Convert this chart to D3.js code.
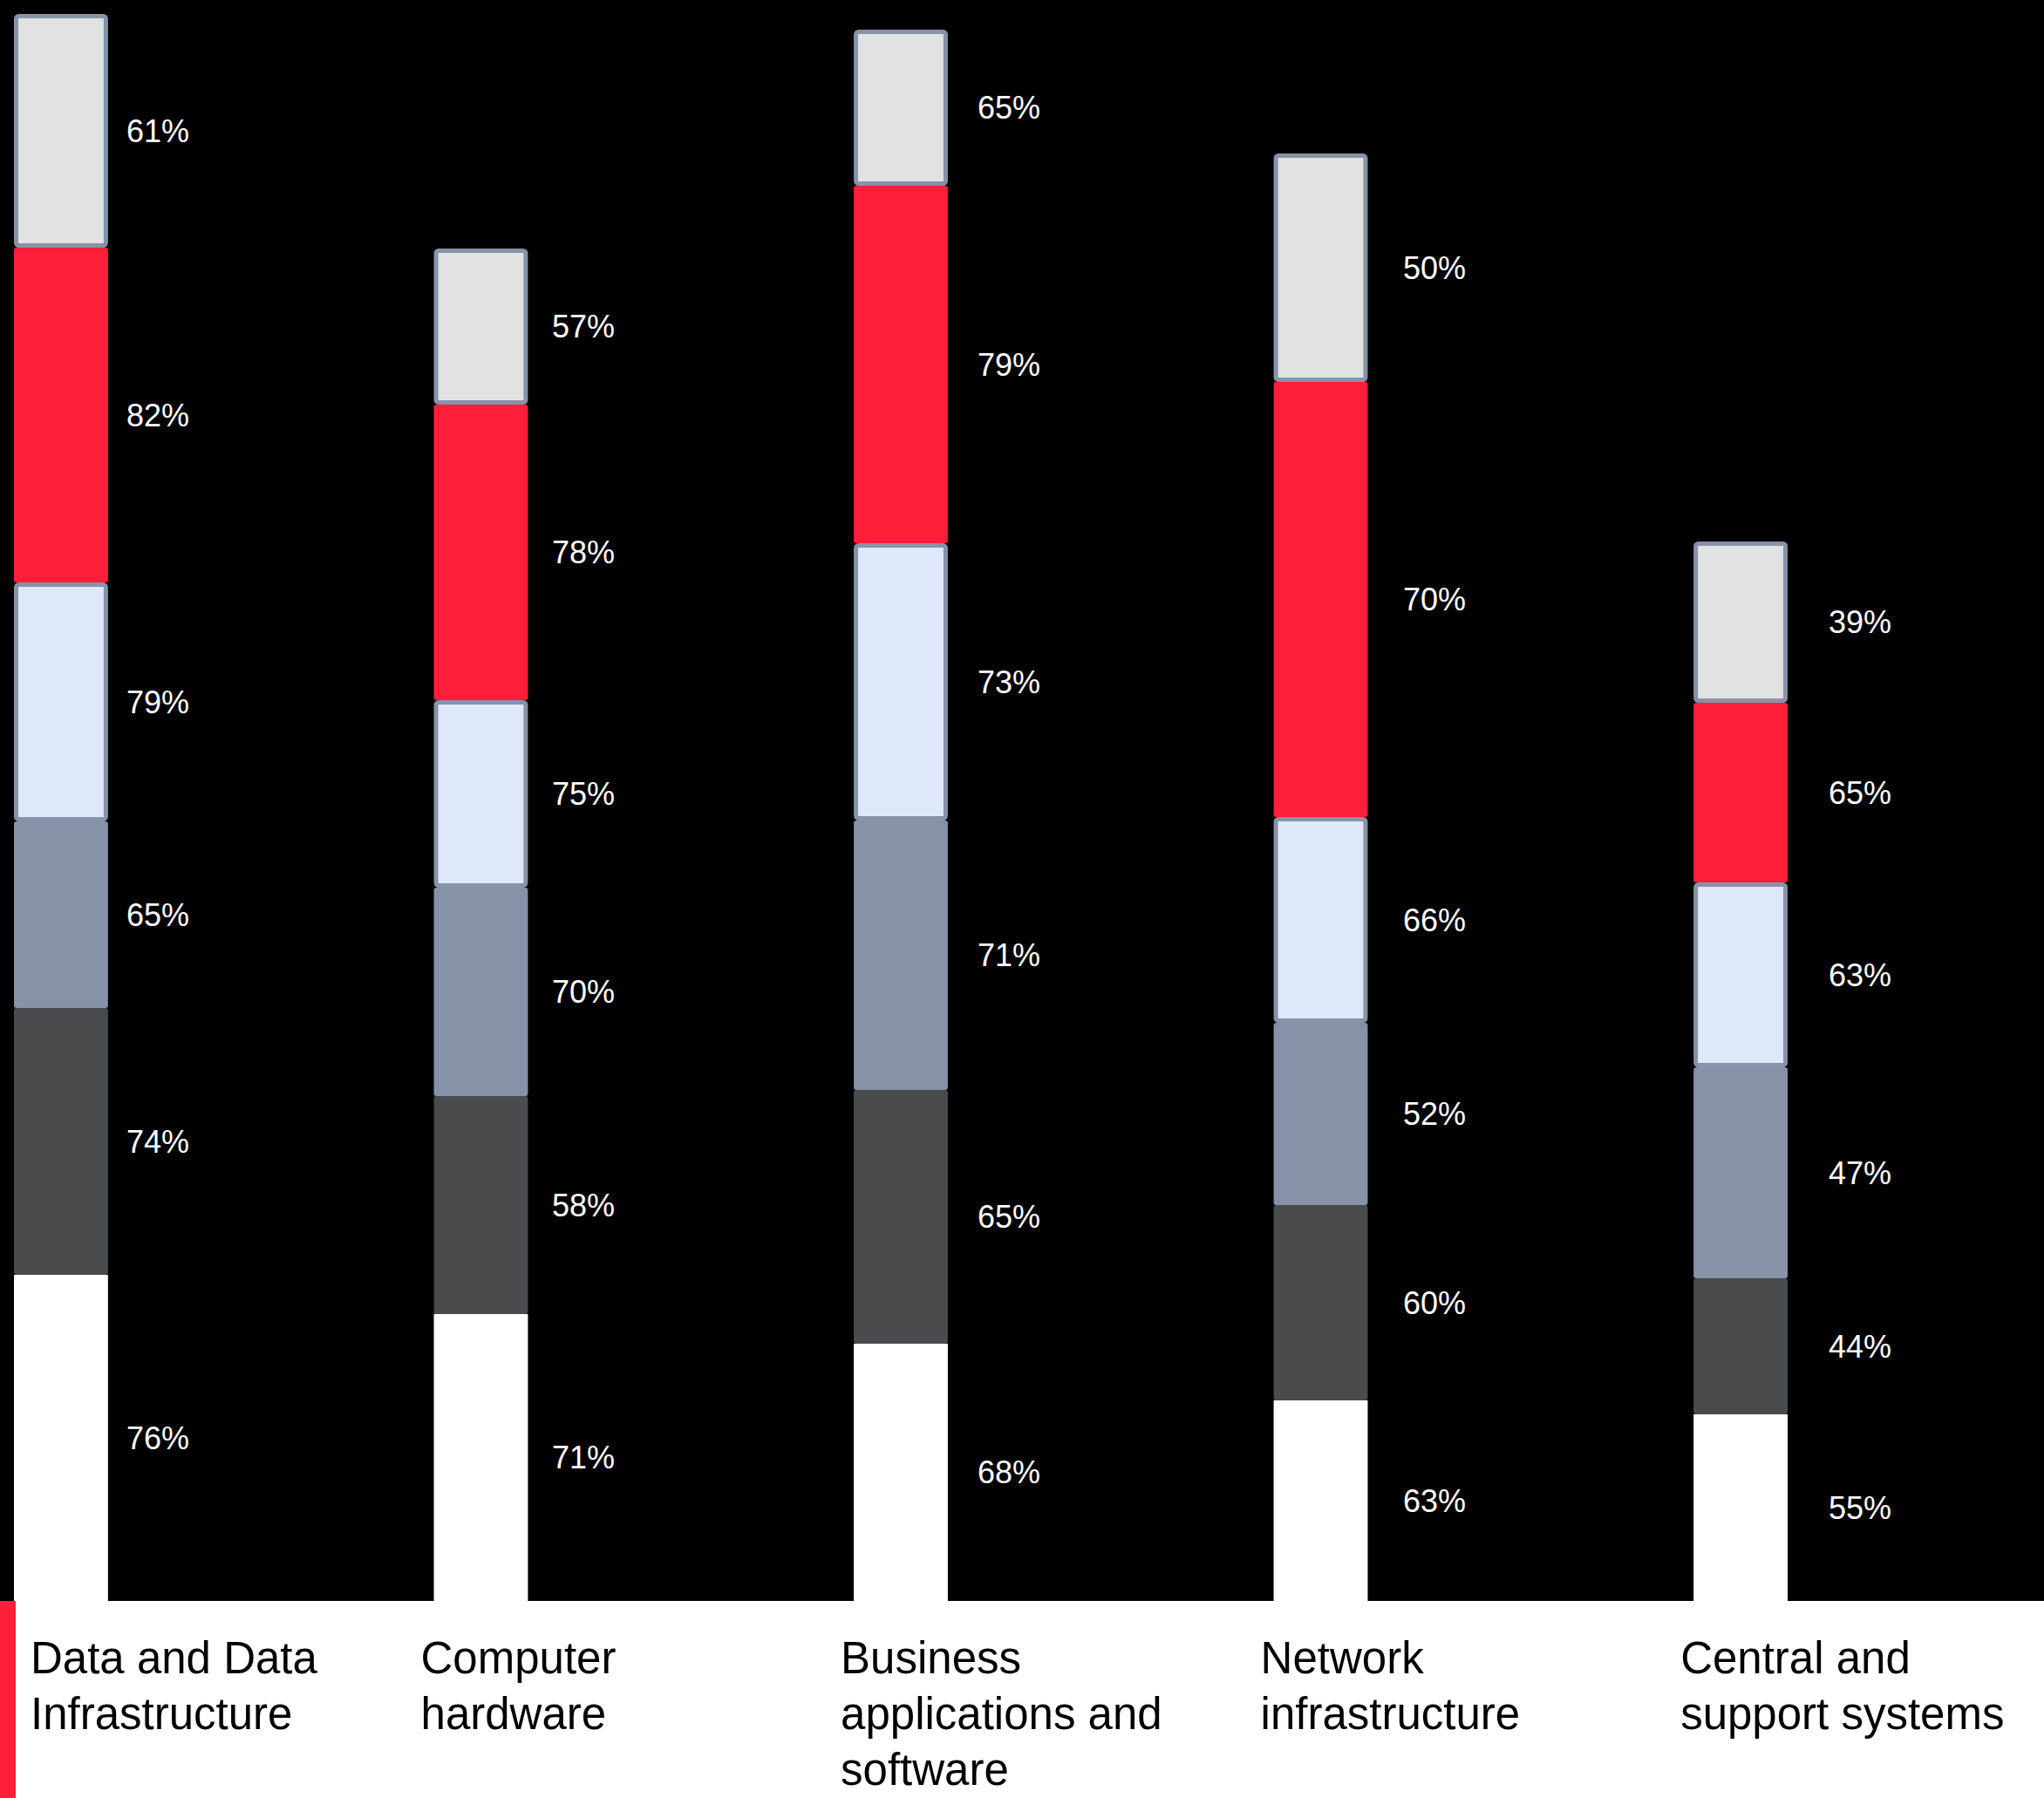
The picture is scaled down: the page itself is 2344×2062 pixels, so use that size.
<!DOCTYPE html>
<html>
  <head>
    <meta charset="utf-8">
    <title>Stacked bars</title>
    <script src="https://d3js.org/d3.v7.min.js"></script>
    <style>
      body { margin: 0; background: #fff; }
      text { font-family: "Liberation Sans", Arial, sans-serif; }
    </style>
  </head>
  <body>
    <svg id="chart" width="2344" height="2062"></svg>
    <script>
// categories, each label split in lines
var categories = ["Data and Data Infrastructure", "Computer hardware",
  "Business applications and software", "Network infrastructure", "Central and support systems"];
var categoryLines = [["Data and Data", "Infrastructure"], ["Computer", "hardware"],
  ["Business", "applications and", "software"], ["Network", "infrastructure"],
  ["Central and", "support systems"]];

// layers, bottom to top
var layers = ["white", "dark", "slate", "lightblue", "red", "gray"];

// segment sizes (not proportional to the printed %)
var sizeWhite = [374, 329, 295, 230, 214];
var sizeDark = [306, 250, 291, 224, 156];
var sizeSlate = [214, 239, 309, 209, 242];
var sizeLightblue = [274, 215, 318, 236, 212];
var sizeRed = [384, 339, 410, 499, 206];
var sizeGray = [268, 179, 179, 262, 185];

// printed percentages
var pctWhite = [76, 71, 68, 63, 55];
var pctDark = [74, 58, 65, 60, 44];
var pctSlate = [65, 70, 71, 52, 47];
var pctLightblue = [79, 75, 73, 66, 63];
var pctRed = [82, 78, 79, 70, 65];
var pctGray = [61, 57, 65, 50, 39];

var sizes = [sizeWhite, sizeDark, sizeSlate, sizeLightblue, sizeRed, sizeGray];
var pcts = [pctWhite, pctDark, pctSlate, pctLightblue, pctRed, pctGray];

var width = 2344, height = 2062, baseY = 1836;

var fills = {white: "#ffffff", dark: "#4a4b4d", slate: "#8592a8", lightblue: "#dfe8f9", red: "#ff1f3a", gray: "#e1e3e2"};
var outlined = {lightblue: true, gray: true};

var svg = d3.select("#chart");

// black plot area, white strip below, red marker at the left
svg.append("rect").attr("x", 0).attr("y", 0).attr("width", width).attr("height", baseY).attr("fill", "#000");
svg.append("rect").attr("x", 0).attr("y", baseY).attr("width", 18).attr("height", height - baseY).attr("fill", "#ff1f3a");

// table for d3.stack
var table = categories.map(function(c, i) {
  var row = {category: c};
  layers.forEach(function(k, j) { row[k] = sizes[j][i]; row[k + "Pct"] = pcts[j][i]; });
  return row;
});

var stacked = d3.stack().keys(layers)(table);

var x = d3.scaleBand()
  .domain(categories)
  .range([16, 2050])
  .paddingInner(0.776)
  .paddingOuter(0);

var labelX = d3.scalePoint()
  .domain(categories)
  .range([145, 2097]);

var y = d3.scaleLinear()
  .domain([0, 1820])
  .range([baseY, baseY - 1820]);

var groups = svg.append("g")
  .selectAll("g")
  .data(stacked)
  .enter().append("g");

groups.selectAll("rect")
  .data(function(s) { return s.map(function(d) { d.key = s.key; return d; }); })
  .enter().append("rect")
  .attr("x", function(d) { return x(d.data.category) + (outlined[d.key] ? 2.5 : 0); })
  .attr("y", function(d) { return y(d[1]) + (outlined[d.key] ? 2.5 : 0); })
  .attr("width", function(d) { return x.bandwidth() - (outlined[d.key] ? 5 : 0); })
  .attr("height", function(d) { return y(d[0]) - y(d[1]) - (outlined[d.key] ? 5 : 0); })
  .attr("rx", function(d) { return d.key === "white" ? 0 : 3; })
  .attr("fill", function(d) { return fills[d.key]; })
  .attr("stroke", function(d) { return outlined[d.key] ? "#8693a8" : "none"; })
  .attr("stroke-width", 5);

// percentage labels beside each segment
groups.selectAll("text")
  .data(function(s) { return s; })
  .enter().append("text")
  .attr("x", function(d) { return labelX(d.data.category); })
  .attr("y", function(d) { return (y(d[0]) + y(d[1])) / 2; })
  .attr("dy", "0.36em")
  .attr("fill", "#ffffff")
  .attr("font-size", 36)
  .text(function(d) { return d.data[d.key + "Pct"] + "%"; });

// category labels under the bars
var cat = svg.append("g")
  .selectAll("text")
  .data(categories)
  .enter().append("text")
  .attr("x", function(d) { return Math.max(35, x(d) - 15); })
  .attr("y", 1919)
  .attr("font-size", 51)
  .attr("fill", "#000");

cat.selectAll("tspan")
  .data(function(d, i) { return categoryLines[i]; })
  .enter().append("tspan")
  .attr("x", function() { return d3.select(this.parentNode).attr("x"); })
  .attr("dy", function(d, i) { return i === 0 ? 0 : 64; })
  .text(function(d) { return d; });
    </script>
  </body>
</html>
